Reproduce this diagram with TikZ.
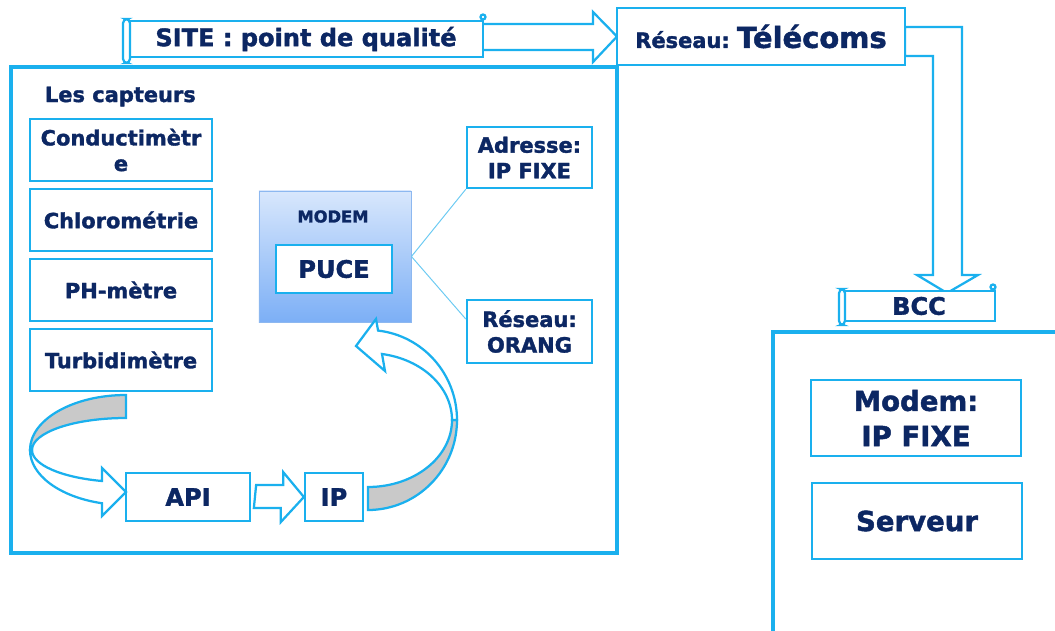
\documentclass[tikz,border=0pt]{standalone}
\usepackage{fontspec}
\setmainfont{DejaVu Sans}[BoldFeatures={FakeBold=1.6}]
\usetikzlibrary{calc,shadows}

\definecolor{lineblue}{HTML}{1AB0EE}
\definecolor{linkblue}{HTML}{6CCAF2}
\definecolor{navy}{HTML}{0C2763}
\definecolor{ribbongray}{HTML}{C9C9C9}
\definecolor{modemtop}{HTML}{D8E7FC}
\definecolor{modembot}{HTML}{7CAFF6}
\definecolor{modemedge}{HTML}{8DB8F0}

% font sizes (1 unit = 0.025cm)
\newcommand\fsmall{\fontsize{14.9pt}{18.2pt}\selectfont}
\newcommand\fmid{\fontsize{17.1pt}{20.5pt}\selectfont}
\newcommand\fbig{\fontsize{19.6pt}{25pt}\selectfont}
\newcommand\fhuge{\fontsize{20.6pt}{24pt}\selectfont}
\newcommand\fmodem{\fontsize{11.6pt}{13pt}\selectfont}

\begin{document}
\begin{tikzpicture}[x=0.025cm, y=-0.025cm,
  frame/.style={draw=lineblue, line width=2.5pt},
  box/.style={draw=lineblue, line width=1.6pt, fill=white, inner sep=0pt, align=center, text=navy},
  sensor/.style={box, minimum width=4.55cm, minimum height=1.55cm, font=\bfseries\fsmall},
  scrollpart/.style={draw=lineblue, line width=1.6pt, fill=white},
  blockarrow/.style={draw=lineblue, line width=1.6pt, fill=white, line join=miter},
  ribbonback/.style={draw=lineblue, line width=1.6pt, fill=ribbongray},
  ribbonfront/.style={draw=lineblue, line width=1.6pt, fill=white},
  link/.style={draw=linkblue, line width=0.7pt}]

\useasboundingbox (0,0) rectangle (1055,631);

% the two sites
\draw[frame] (11,67) rectangle (617,553);
\draw[frame] (773,631) -- (773,332) -- (1055,332);

% arrow from the site to the network, with its scroll
\draw[blockarrow] (470,24) -- (593,24) -- (593,12) -- (617,36.5) -- (593,62) -- (593,50) -- (470,50) -- cycle;
\draw[scrollpart] (130,21) rectangle (483,57);
\draw[scrollpart, rounded corners=3] (123,19) rectangle (130,63);
\draw[scrollpart] (483,17) circle [radius=2.5];
\node [text=navy, font=\bfseries\fmid] (site) at (306,39) {SITE : point de qualité};

% bent arrow down to BCC
\draw[blockarrow] (905,27) -- (962,27) -- (962,275) -- (978,275) -- (947,293) -- (917,275) -- (933,275) -- (933,56) -- (905,56) -- cycle;
\node [box, minimum width=7.2cm, minimum height=1.425cm, font=\bfseries\fhuge] (tel) at (761,36.5) {{\fsmall Réseau:\ }Télécoms};

\draw[scrollpart] (845,291) rectangle (995,321);
\draw[scrollpart, rounded corners=3] (839,289) rectangle (845,325);
\draw[scrollpart] (993,287) circle [radius=2.5];
\node [text=navy, font=\bfseries\fmid] (bcc) at (919,306) {BCC};

% sensors
\node [anchor=base west, text=navy, font=\bfseries\fsmall] (capt) at (40,102) {Les capteurs};
\foreach \name/\y/\txt in {cond/150/Conductimètr\\e, chlor/220/Chlorométrie, ph/290/PH-mètre, turb/360/Turbidimètre}{
  \node [sensor] (\name) at (121,\y) {\txt};
}

% modem and its links
\node [draw=modemedge, line width=0.6pt, top color=modemtop, bottom color=modembot, minimum width=3.8cm, minimum height=3.275cm,
  drop shadow={opacity=0.25, shadow xshift=1pt, shadow yshift=-1pt}] (modem) at (335,256.5) {};
\node [text=navy, font=\bfseries\fmodem] (modemlbl) at (333,216.5) {MODEM};
\node [box, minimum width=2.9cm, minimum height=1.2cm, font=\bfseries\fmid] (puce) at (334,269) {PUCE};

\node [box, minimum width=3.125cm, minimum height=1.525cm, font=\bfseries\fsmall] (adr) at (529.5,157.5) {Adresse:\\IP FIXE};
\node [box, minimum width=3.125cm, minimum height=1.575cm, font=\bfseries\fsmall] (orang) at (529.5,331.5) {Réseau:\\ORANG};
\draw[link] (modem.east) -- (adr.south west);
\draw[link] (modem.east) -- (orang.169);

% API -> IP
\node [box, minimum width=3.1cm, minimum height=1.2cm, font=\bfseries\fmid] (api) at (188,497) {API};
\node [box, minimum width=1.45cm, minimum height=1.2cm, font=\bfseries\fmid] (ip) at (334,497) {IP};
\draw[blockarrow] ($(api.east)+(5,-12)$) -- ++(27,0) -- ++(0,-13) -- (ip.west) -- ++(-23,25) -- ++(0,-14) -- ++(-27,0) -- cycle;

% curved arrow sensors -> API
\draw[ribbonback] (126,395) arc [start angle=-90, end angle=-180, x radius=96, y radius=55]
  -- (32,450) arc [start angle=-180, end angle=-90, x radius=94, y radius=32] -- cycle;
\draw[ribbonfront] (30,450) arc [start angle=-180, end angle=-255.5, x radius=96, y radius=55]
  -- (102,516) -- (126,492) -- (102,468) -- (102,481)
  arc [start angle=-255.2, end angle=-180, x radius=94, y radius=32] -- cycle;

% curved arrow IP -> modem
\draw[ribbonback] (368,510) arc [start angle=90, end angle=0, x radius=89, y radius=90]
  -- (452,420) arc [start angle=0, end angle=90, x radius=84, y radius=67] -- cycle;
\draw[ribbonfront] (457,420) arc [start angle=0, end angle=-83.5, x radius=89, y radius=90]
  -- (376,319) -- (356,346) -- (385,371) -- (382,354)
  arc [start angle=-80.4, end angle=0, x radius=84, y radius=67] -- cycle;

% BCC side
\node [box, minimum width=5.25cm, minimum height=1.9cm, font=\bfseries\fbig] (modembcc) at (916,418) {Modem:\\IP FIXE};
\node [box, minimum width=5.25cm, minimum height=1.9cm, font=\bfseries\fbig] (serv) at (917,521) {Serveur};
\end{tikzpicture}
\end{document}
